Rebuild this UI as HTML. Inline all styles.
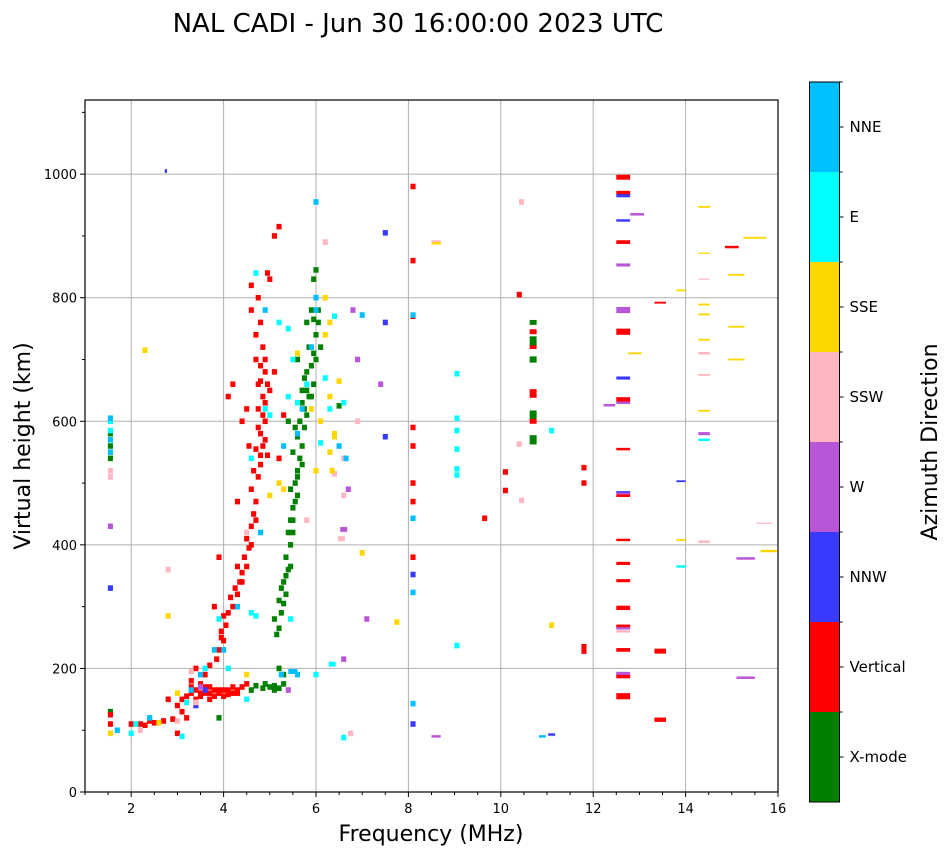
<!DOCTYPE html>
<html><head><meta charset="utf-8"><style>
html,body{margin:0;padding:0;background:#fff;}
svg{display:block;font-family:"DejaVu Sans","Liberation Sans",sans-serif;}
</style></head><body>
<svg id="chart" width="951" height="856" viewBox="0 0 951 856">
<text x="418" y="32" font-size="26" text-anchor="middle">NAL CADI - Jun 30 16:00:00 2023 UTC</text>
<g id="grid"></g>
<g id="marks"></g>
<g id="axes"></g>
<g id="cbar"></g>
<text x="431" y="841" font-size="22" text-anchor="middle">Frequency (MHz)</text>
<text transform="translate(30,446) rotate(-90)" font-size="22" text-anchor="middle">Virtual height (km)</text>
<text transform="translate(937,442) rotate(-90)" font-size="22" text-anchor="middle">Azimuth Direction</text>
</svg>
<script>
const categories = ["X-mode","Vertical","NNW","W","SSW","SSE","E","NNE"];
const catColors = ["#008000","#ff0000","#3a3aff","#b856d7","#ffb6c1","#ffd700","#00ffff","#00bfff"];
const xTicks = [2,4,6,8,10,12,14,16];
const yTicks = [0,200,400,600,800,1000];
// each entry: [freq MHz, height km, span MHz (opt), thickness km (opt)]
const xmode = [[5.0,170],[4.9,175],[5.1,165],[5.2,200],[5.3,190],[5.2,265],[5.15,255],[5.25,290],[5.3,305],[5.35,320],[5.3,340],[5.4,360],[5.35,380],[5.45,400],[5.5,420],[5.45,440],[5.5,460],[5.6,480],[5.55,500],[5.6,520],[5.65,540],[5.7,560],[5.6,575],[5.75,590],[5.8,610],[5.7,630],[5.8,650],[5.9,640],[5.75,670],[5.9,690],[6.0,700],[5.85,720],[6.0,740],[6.05,760],[5.9,780],[6.0,800],[5.95,830],[6.0,845],[5.4,600],[5.6,700],[5.5,550],[5.8,760],[6.1,720],[4.6,165],[4.7,172],[4.85,168],[3.9,120],[1.55,130],[1.55,560],[1.55,580],[1.55,540],[10.7,570,0.15,15],[10.7,610,0.15,15],[10.7,700,0.15,10],[10.7,730,0.15,15],[10.7,760,0.15,8],[6.5,625],
[5.1,280],[5.2,310],[5.25,330],[5.35,350],[5.4,420],[5.5,440],[5.55,470],[5.45,490],[5.6,510],[5.7,530],[5.65,600],[5.75,620],[5.85,640],[5.95,660],[5.8,680],[5.95,710],[6.05,780],[5.95,765],[5.7,650],[5.55,590],[5.1,172],[5.2,168],[5.3,175],[5.45,365]];
const vertical = [[2.0,110],[2.2,110],[2.3,108],[2.5,112],[2.7,115],[2.9,118],[2.4,115],[1.55,125],[1.55,110],[2.8,150],[3.0,140],[3.1,150],[3.2,155],[3.3,160],[3.4,150],[3.5,155],[3.6,160],[3.7,150],[3.8,155],[3.9,160],[4.0,155],[4.1,158],[4.2,160],[4.3,165],[4.4,170],[4.5,175],[3.3,170],[3.5,175],[3.7,170],[3.1,130],[3.2,120],[3.0,95],[3.3,180],[3.6,190],[3.4,200],[3.7,205],[3.85,215],[3.9,230],[4.0,245],[3.95,260],[4.05,270],[4.0,285],[4.2,300],[4.15,315],[4.25,330],[4.35,340],[4.4,355],[4.3,365],[4.45,380],[4.55,395],[4.5,410],[4.6,430],[4.65,450],[4.7,470],[4.6,490],[4.75,510],[4.8,530],[4.7,555],[4.85,560],[4.8,580],[4.9,600],[4.75,620],[4.85,640],[5.0,650],[4.8,665],[4.9,680],[4.7,700],[4.85,720],[4.7,740],[4.8,760],[4.6,780],[4.75,800],[4.95,840],[5.0,830],[4.5,620],[4.3,470],[3.9,380],[3.8,300],[4.1,640],[4.2,660],[5.1,680],[5.3,610],[5.2,540],[4.4,600],[5.1,900],[5.2,915],[4.6,820],
[3.4,165],[3.6,170],[3.8,165],[4.0,165],[4.2,170],[3.5,160],[3.9,165],[4.1,165],[4.3,160],[3.7,160],[3.95,250],[4.1,290],[4.3,320],[4.4,340],[4.5,365],[4.6,400],[4.7,440],[4.65,520],[4.8,545],[4.9,570],[4.75,590],[4.9,630],[4.95,660],[4.8,690],[4.9,700],[4.75,660],[4.85,610],[4.95,545],[4.55,560],
[8.1,980],[8.1,860],[8.1,770],[8.1,590],[8.1,560],[8.1,500],[8.1,470],[8.1,380],[10.4,805],[10.1,518],[10.1,488],[9.65,443],[11.8,525],[11.8,500],[11.8,235],[11.8,228],[12.65,995,0.3,8],[12.65,970,0.3,6],[12.65,890,0.3,6],[12.65,745,0.3,10],[12.65,635,0.3,8],[12.65,555,0.3,4],[12.65,480,0.3,5],[12.65,408,0.3,4],[12.65,370,0.3,5],[12.65,342,0.3,5],[12.65,298,0.3,7],[12.65,268,0.3,6],[12.65,230,0.3,6],[12.65,188,0.3,8],[12.65,155,0.3,10],[13.45,792,0.25,3],[13.45,228,0.25,8],[13.45,117,0.25,7],[15.0,882,0.3,4],[10.7,645,0.15,14],[10.7,600,0.15,8],[10.7,745,0.15,8],[10.7,720,0.15,6]];
const nnw = [[2.75,1005,0.05,6],[1.55,330],[7.5,905],[7.5,760],[7.5,575],[8.1,352],[8.1,110],[12.65,965,0.3,5],[12.65,925,0.3,4],[12.65,670,0.3,5],[12.65,485,0.3,4],[13.9,503,0.2,3],[11.1,93,0.15,4],[3.4,140],[3.6,165]];
const west = [[8.6,90,0.2,4],[12.95,935,0.3,4],[12.65,853,0.3,5],[12.65,780,0.3,10],[12.35,626,0.25,4],[12.65,630,0.3,4],[12.65,265,0.3,4],[12.65,192,0.3,5],[12.65,483,0.3,3],[14.4,580,0.25,5],[15.3,378,0.4,4],[15.3,185,0.4,4],[6.6,425,0.15,8],[6.7,490],[6.9,700],[7.4,660],[5.4,165],[6.6,215],[3.5,170],[1.55,430],[6.8,780],[7.1,280]];
const ssw = [[1.55,510],[1.55,520],[6.2,890],[8.6,890,0.2,6],[10.45,955],[10.4,563],[10.45,472],[12.65,260,0.3,4],[14.4,830,0.25,2],[14.4,710,0.25,4],[14.4,675,0.25,3],[14.4,405,0.25,4],[15.7,435,0.35,2],[6.55,410,0.15,8],[6.6,540],[6.75,95],[2.8,360],[3.0,115],[2.2,100],[4.5,420],[5.8,440],[6.4,515],[6.6,480],[6.9,600],[3.4,145],[3.3,195]];
const sse = [[2.3,715],[2.8,285],[6.2,800],[6.3,760],[6.2,740],[6.5,665],[6.3,640],[6.4,575],[6.4,580],[6.1,600],[6.3,550],[5.9,620],[5.2,500],[5.3,490],[5.0,480],[6.0,520],[7.0,387],[7.75,275],[8.6,888,0.2,4],[11.1,270],[12.9,710,0.3,3],[13.9,812,0.2,3],[13.9,408,0.2,3],[14.4,947,0.25,3],[14.4,872,0.25,2],[14.4,789,0.25,3],[14.4,773,0.25,3],[14.4,732,0.25,3],[14.4,617,0.25,3],[15.1,837,0.35,3],[15.1,753,0.35,3],[15.1,700,0.35,3],[15.5,897,0.5,3],[15.8,390,0.35,4],[1.55,95],[2.6,112],[4.5,190],[5.6,710],[6.35,520],[3.0,160]];
const east = [[1.55,600],[1.55,585],[2.0,95],[2.1,110],[3.1,90],[3.2,145],[3.6,200],[3.9,280],[4.1,200],[4.6,290],[4.7,285],[4.5,150],[4.9,620],[5.0,610],[5.4,640],[5.6,630],[5.8,660],[6.2,670],[6.3,620],[6.1,565],[6.4,770],[6.6,630],[6.35,207,0.15,8],[5.45,280],[6.0,190],[9.05,677],[9.05,605],[9.05,585],[9.05,555],[9.05,523],[9.05,513],[9.05,237],[11.1,585],[14.4,570,0.25,4],[13.9,365,0.2,4],[4.7,840],[5.4,750],[5.5,700],[5.2,760],[4.6,540],[6.6,88]];
const nne = [[1.55,605],[1.55,570],[1.55,550],[1.7,100],[2.4,120],[3.3,165],[3.5,190],[4.0,230],[4.3,300],[5.5,195,0.2,8],[5.6,190],[5.25,190],[6.0,955],[6.0,800],[5.7,620],[5.6,580],[6.5,560],[5.9,720],[4.8,420],[6.65,540],[8.1,772],[8.1,443],[8.1,143],[8.1,323],[10.9,90,0.15,4],[7.0,772],[6.0,780],[4.9,780],[5.3,560],[3.8,230]];
const seriesByCat = [xmode, vertical, nnw, west, ssw, sse, east, nne];

const NS = "http://www.w3.org/2000/svg";
const L = 85, R = 778, T = 100, B = 792;
const xMin = 1, xMax = 16, yMin = 0, yMax = 1120;
const xs = f => L + (f - xMin) / (xMax - xMin) * (R - L);
const ys = h => B - (h - yMin) / (yMax - yMin) * (B - T);
function mk(tag, attrs, parent){const e=document.createElementNS(NS,tag);for(const k in attrs)e.setAttribute(k,attrs[k]);parent.appendChild(e);return e;}

const grid = document.getElementById('grid');
xTicks.forEach(t=>{const l=mk('line',{x1:xs(t),x2:xs(t),y1:T,y2:B,stroke:'#b0b0b0','stroke-width':1},grid);

});
yTicks.forEach(t=>{const l=mk('line',{x1:L,x2:R,y1:ys(t),y2:ys(t),stroke:'#b0b0b0','stroke-width':1},grid);

});

const marks = document.getElementById('marks');
seriesByCat.forEach((arr,ci)=>{
  arr.forEach(p=>{
    const span = p[2]||0.11, th = p[3]||9;
    const x0 = xs(p[0]-span/2), x1 = xs(p[0]+span/2);
    const y0 = ys(p[1]+th/2), y1 = ys(p[1]-th/2);
    const r = mk('rect',{x:x0,y:y0,width:Math.max(1,x1-x0),height:Math.max(1,y1-y0),fill:catColors[ci]},marks);
    
    
  });
});

const axes = document.getElementById('axes');
const frame = mk('rect',{x:L,y:T,width:R-L,height:B-T,fill:'none',stroke:'#000','stroke-width':1.2},axes);


for(let f=1; f<=16.001; f+=0.5){
  const major = xTicks.includes(f);
  mk('line',{x1:xs(f),x2:xs(f),y1:B,y2:B+(major?5:3),stroke:'#000','stroke-width':1},axes);
}
xTicks.forEach(t=>{const tx=mk('text',{x:xs(t),y:B+21,'font-size':13,'text-anchor':'middle'},axes);tx.textContent=t;

});
for(let h=0; h<=1100; h+=100){
  const major = yTicks.includes(h);
  mk('line',{x1:L,x2:L-(major?5:3),y1:ys(h),y2:ys(h),stroke:'#000','stroke-width':1},axes);
}
yTicks.forEach(t=>{const tx=mk('text',{x:L-8,y:ys(t)+5,'font-size':13,'text-anchor':'end'},axes);tx.textContent=t;

});

const cb = document.getElementById('cbar');
const cbL=809.5, cbW=30, cbT=82, cbB=802, seg=(cbB-cbT)/categories.length;
categories.forEach((c,i)=>{
  const y0 = cbB-(i+1)*seg;
  const r = mk('rect',{x:cbL,y:y0,width:cbW,height:seg,fill:catColors[i]},cb);
  
  
  mk('line',{x1:cbL+cbW,x2:cbL+cbW+4,y1:y0+seg/2,y2:y0+seg/2,stroke:'#000'},cb);
  mk('line',{x1:cbL+cbW,x2:cbL+cbW+3,y1:y0,y2:y0,stroke:'#000'},cb);
  const tx = mk('text',{x:cbL+cbW+10,y:y0+seg/2+5,'font-size':15},cb);
  tx.textContent = c;
  
  
});
const cbf = mk('rect',{x:cbL,y:cbT,width:cbW,height:cbB-cbT,fill:'none',stroke:'#000','stroke-width':1},cb);


</script>
</body></html>
